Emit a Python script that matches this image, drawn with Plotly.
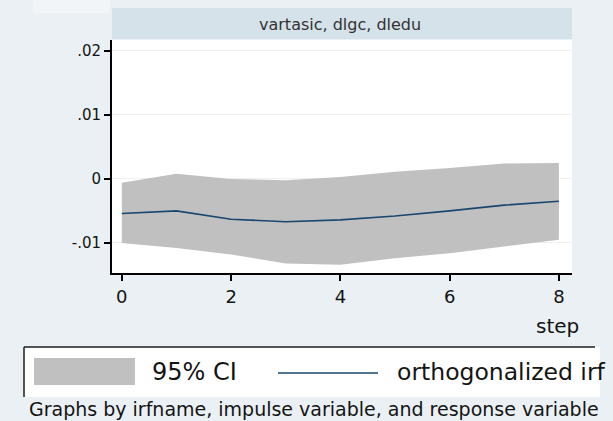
import plotly.graph_objects as go

steps = [0, 1, 2, 3, 4, 5, 6, 7, 8]
irf = [-0.0054, -0.0050, -0.0063, -0.0067, -0.0064, -0.0058, -0.0050, -0.0041, -0.0035]
ci_upper = [-0.0006, 0.0008, 0.0000, -0.0002, 0.0003, 0.0011, 0.0017, 0.0024, 0.0025]
ci_lower = [-0.0100, -0.0108, -0.0118, -0.0132, -0.0134, -0.0124, -0.0116, -0.0105, -0.0095]
y_ticks = [-0.01, 0, 0.01, 0.02]
y_ticktext = ["-.01", "0", ".01", ".02"]
x_ticks = [0, 2, 4, 6, 8]
panel_title = "vartasic, dlgc, dledu"
legend_labels = ["95% CI", "orthogonalized irf"]
note = "Graphs by irfname, impulse variable, and response variable"

W, H = 613, 421
BG = "rgb(234,240,243)"
STRIP = "rgb(214,226,233)"
BAND = "rgb(192,192,192)"
NAVY = "rgb(26,71,111)"
FONT = "DejaVu Sans, sans-serif"
TXT = "rgb(20,20,20)"

def px(x):
    return x / W

def py(y):
    return 1 - y / H

fig = go.Figure()
fig.add_trace(go.Scatter(x=steps, y=ci_upper, mode="lines", line=dict(width=0, color=BAND),
                         showlegend=False, hoverinfo="skip"))
fig.add_trace(go.Scatter(x=steps, y=ci_lower, mode="lines", line=dict(width=0, color=BAND),
                         fill="tonexty", fillcolor=BAND, name=legend_labels[0], showlegend=False))
fig.add_trace(go.Scatter(x=steps, y=irf, mode="lines", line=dict(width=1.6, color=NAVY),
                         name=legend_labels[1], showlegend=False))

shapes = [
    # faint tab at top-left
    dict(type="rect", xref="paper", yref="paper", x0=px(33), x1=px(110), y0=py(13), y1=py(0),
         fillcolor="rgb(242,245,247)", line=dict(width=0), layer="below"),
    # title strip
    dict(type="rect", xref="paper", yref="paper", x0=px(112), x1=px(572), y0=py(39), y1=py(8),
         fillcolor=STRIP, line=dict(width=0), layer="below"),
    # legend box
    dict(type="rect", xref="paper", yref="paper", x0=px(24), x1=px(600), y0=py(397), y1=py(347),
         fillcolor="white", line=dict(width=0), layer="below"),
    dict(type="line", xref="paper", yref="paper", x0=px(24), x1=px(595), y0=py(347), y1=py(347),
         line=dict(color="rgb(30,30,30)", width=1.5)),
    dict(type="line", xref="paper", yref="paper", x0=px(24), x1=px(24), y0=py(347), y1=py(397),
         line=dict(color="rgb(30,30,30)", width=1.5)),
    # legend swatch
    dict(type="rect", xref="paper", yref="paper", x0=px(34), x1=px(135), y0=py(385), y1=py(358),
         fillcolor=BAND, line=dict(width=0)),
    # legend line sample
    dict(type="line", xref="paper", yref="paper", x0=px(278), x1=px(378), y0=py(373), y1=py(373),
         line=dict(color=NAVY, width=1.6)),
]

annotations = [
    dict(text=panel_title, xref="paper", yref="paper", x=px(340), y=py(25), showarrow=False,
         font=dict(size=16, color="rgb(50,50,50)", family=FONT), xanchor="center", yanchor="middle"),
    dict(text="step", xref="paper", yref="paper", x=px(581), y=py(326), showarrow=False,
         font=dict(size=20, color=TXT, family=FONT), xanchor="right", yanchor="middle"),
    dict(text=legend_labels[0], xref="paper", yref="paper", x=px(150), y=py(372), showarrow=False,
         font=dict(size=24, color=TXT, family=FONT), xanchor="left", yanchor="middle"),
    dict(text=legend_labels[1], xref="paper", yref="paper", x=px(395), y=py(372), showarrow=False,
         font=dict(size=23.5, color=TXT, family=FONT), xanchor="left", yanchor="middle"),
    dict(text=note, xref="paper", yref="paper", x=px(27), y=py(409), showarrow=False,
         font=dict(size=19, color=TXT, family=FONT), xanchor="left", yanchor="middle"),
]

fig.update_layout(
    width=W, height=H,
    margin=dict(l=0, r=0, t=0, b=0),
    paper_bgcolor=BG, plot_bgcolor="white",
    font=dict(family=FONT, color=TXT),
    showlegend=False,
    shapes=shapes, annotations=annotations,
    xaxis=dict(domain=[px(112), px(572)], range=[-0.18, 8.24], tickvals=x_ticks,
               showline=True, linecolor="black", linewidth=2, ticks="outside", ticklen=6,
               tickwidth=1.5, tickcolor="black", showgrid=False, zeroline=False,
               tickfont=dict(size=18, family=FONT)),
    yaxis=dict(domain=[py(273), py(40)], range=[-0.0147, 0.0217], tickvals=y_ticks,
               ticktext=y_ticktext, showline=True, linecolor="black", linewidth=2,
               ticks="outside", ticklen=6, tickwidth=1.5, tickcolor="black",
               showgrid=True, gridcolor="rgb(236,241,243)", gridwidth=1, zeroline=False,
               tickfont=dict(size=15, family=FONT)),
)

fig.write_html("out.html", config={"displayModeBar": False},
               post_script="document.body.style.margin='0px';document.body.style.overflow='hidden';document.body.style.background='" + BG + "';")
